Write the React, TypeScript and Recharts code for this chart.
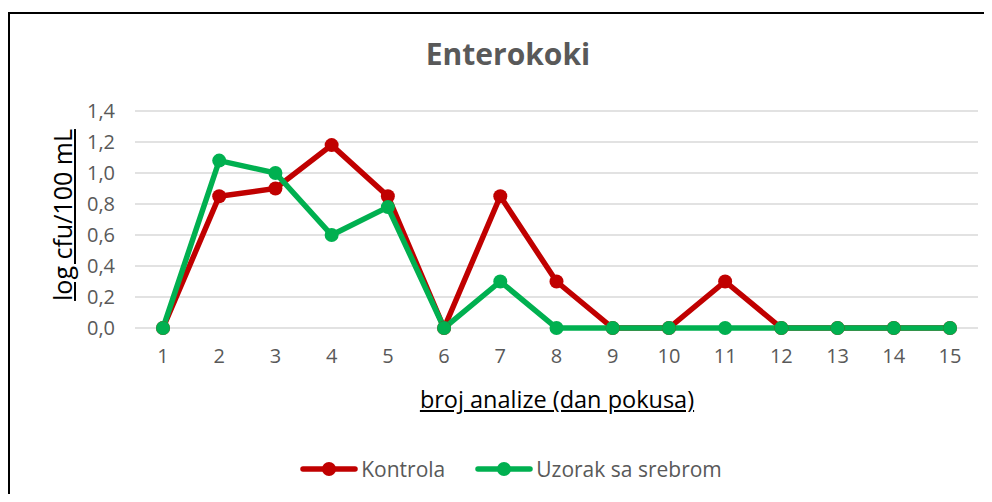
import React from 'react';
import { LineChart, Line, XAxis, YAxis, CartesianGrid, Legend } from 'recharts';

const days = ['1', '2', '3', '4', '5', '6', '7', '8', '9', '10', '11', '12', '13', '14', '15'];
const kontrola = [0, 0.85, 0.9, 1.18, 0.85, 0, 0.85, 0.3, 0, 0, 0.3, 0, 0, 0, 0];
const uzorak = [0, 1.08, 1.0, 0.6, 0.78, 0, 0.3, 0, 0, 0, 0, 0, 0, 0, 0];
const yTicks = [0, 0.2, 0.4, 0.6, 0.8, 1.0, 1.2, 1.4];
const seriesNames = ['Kontrola', 'Uzorak sa srebrom'];
const seriesColors = ['#c00000', '#00b050'];

const data = days.map((d, i) => ({ day: d, k: kontrola[i], u: uzorak[i] }));

const FONT = 'Open Sans, Noto Sans, sans-serif';

const LegendContent = () => (
  <div style={{ display: 'flex', justifyContent: 'center', fontFamily: FONT, fontSize: 21, color: '#595959', lineHeight: '26px', paddingLeft: 30 }}>
    {seriesNames.map((n, i) => (
      <div key={n} style={{ display: 'flex', alignItems: 'center', marginRight: i === 0 ? 30 : 0 }}>
        <svg width={58} height={18} style={{ marginRight: 3 }}>
          <line x1={3} y1={9} x2={55} y2={9} stroke={seriesColors[i]} strokeWidth={5.5} strokeLinecap="round" />
          <circle cx={29} cy={9} r={7} fill={seriesColors[i]} />
        </svg>
        <span>{n}</span>
      </div>
    ))}
  </div>
);

export default function App() {
  return (
    <div style={{ position: 'relative', width: 976, height: 486 }}>
      <div style={{ position: 'absolute', left: 0, top: 4, width: 976, height: 482, borderLeft: '2px solid #000', borderTop: '2px solid #000', boxSizing: 'border-box' }} />
      <LineChart width={976} height={486} data={data} margin={{ top: 103, right: 6, bottom: 110, left: 47 }}>
        <CartesianGrid vertical={false} stroke="#d9d9d9" strokeWidth={1.5} />
        <XAxis dataKey="day" axisLine={false} tickLine={false} tickSize={0} tickMargin={21}
          padding={{ left: 28, right: 28 }} height={30}
          tick={{ fill: '#595959', fontSize: 20, fontFamily: FONT }} />
        <YAxis domain={[0, 1.4]} ticks={yTicks} axisLine={false} tickLine={false} tickSize={0} tickMargin={20} width={80}
          tickFormatter={(v: number) => v.toFixed(1).replace('.', ',')}
          tick={{ fill: '#595959', fontSize: 20, fontFamily: FONT }} />
        <Legend verticalAlign="bottom" content={<LegendContent />} wrapperStyle={{ bottom: 12, left: 0, width: 976 }} />
        <Line type="linear" dataKey="k" name={seriesNames[0]} stroke={seriesColors[0]} strokeWidth={5.5}
          dot={{ r: 7, fill: seriesColors[0], stroke: seriesColors[0], strokeWidth: 0 }} isAnimationActive={false} />
        <Line type="linear" dataKey="u" name={seriesNames[1]} stroke={seriesColors[1]} strokeWidth={5.5}
          dot={{ r: 7, fill: seriesColors[1], stroke: seriesColors[1], strokeWidth: 0 }} isAnimationActive={false} />
      </LineChart>
      <div style={{ position: 'absolute', left: 0, width: 1000, top: 25, textAlign: 'center', fontFamily: FONT, fontSize: 30, fontWeight: 700, color: '#595959' }}>Enterokoki</div>
      <div style={{ position: 'absolute', left: 549, top: 375, transform: 'translateX(-50%)', whiteSpace: 'nowrap', fontFamily: FONT, fontSize: 23.5, color: '#000', textDecoration: 'underline' }}>broj analize (dan pokusa)</div>
      <div style={{ position: 'absolute', left: 54, top: 207, transform: 'translate(-50%, -50%) rotate(-90deg)', whiteSpace: 'nowrap', fontFamily: FONT, fontSize: 25, color: '#000', textDecoration: 'underline' }}>log cfu/100 mL</div>
    </div>
  );
}
